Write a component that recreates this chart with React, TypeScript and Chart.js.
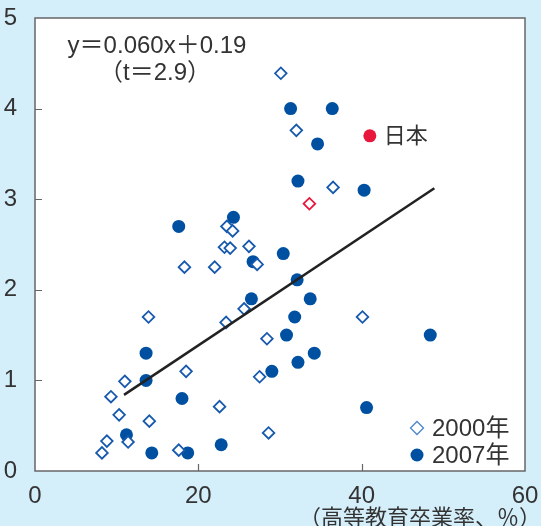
import React, { useEffect, useRef } from "react";
import { Chart, registerables } from "chart.js";

Chart.register(...registerables);

// ---- data ----
const xTickValues = [0, 20, 40, 60];
const yTickValues = [0, 1, 2, 3, 4, 5];

// 2000 (hollow diamonds)
const x2000 = [30.1, 32.0, 36.5, 23.5, 24.2, 23.2, 23.9, 26.2, 27.2, 18.3, 22.0, 25.6, 23.4, 13.9, 40.1, 28.4, 18.5, 27.5, 11.0, 9.3, 22.6, 10.3, 14.0, 28.6, 8.8, 11.4, 8.2, 17.6];
const y2000 = [4.39, 3.76, 3.13, 2.70, 2.65, 2.47, 2.46, 2.48, 2.28, 2.25, 2.25, 1.79, 1.64, 1.70, 1.70, 1.46, 1.10, 1.04, 0.99, 0.82, 0.71, 0.62, 0.55, 0.42, 0.33, 0.32, 0.20, 0.23];

// 2007 (filled circles)
const x2007 = [31.3, 36.4, 34.6, 32.2, 40.3, 17.6, 24.3, 30.4, 26.7, 32.1, 26.5, 33.7, 31.8, 30.8, 48.4, 13.6, 34.2, 13.6, 32.2, 29.0, 18.0, 40.6, 11.2, 22.8, 14.3, 18.7];
const y2007 = [4.00, 4.00, 3.61, 3.20, 3.10, 2.70, 2.80, 2.40, 2.31, 2.11, 1.90, 1.90, 1.70, 1.50, 1.50, 1.30, 1.30, 1.00, 1.20, 1.10, 0.80, 0.70, 0.40, 0.29, 0.20, 0.20];

// Japan
const japanX2000 = [33.6];
const japanY2000 = [2.95];
const japanX2007 = [41.0];
const japanY2007 = [3.70];

// regression line end points
const fitX = [10.9, 48.9];
const fitY = [0.84, 3.12];

const equationText = "y＝0.060x＋0.19";
const tText = "（t＝2.9）";
const japanLabel = "日本";
const legendLabels = ["2000年", "2007年"];
const xAxisTitle = "（高等教育卒業率、％）";

const BG = "#d4eefa";
const BLUE_FILL = "#0050a2";
const BLUE_LINE = "#1659ad";
const RED = "#e8173c";
const TEXT = "#333333";
const FONT = '"Liberation Sans", "Noto Sans CJK JP", sans-serif';

const pts = (xs: number[], ys: number[]) => xs.map((x, i) => ({ x, y: ys[i] }));

const decorPlugin = {
  id: "decor",
  beforeDraw(chart: any) {
    const { ctx, chartArea: a, width, height } = chart;
    ctx.save();
    ctx.fillStyle = BG;
    ctx.fillRect(0, 0, width, height);
    ctx.fillStyle = "#ffffff";
    ctx.fillRect(a.left, a.top, a.right - a.left, a.bottom - a.top);
    ctx.restore();
  },
  afterDraw(chart: any) {
    const { ctx, chartArea: a, scales } = chart;
    const xs = scales.x;
    const ys = scales.y;
    ctx.save();
    // border
    ctx.strokeStyle = "#666666";
    ctx.lineWidth = 1.5;
    ctx.strokeRect(a.left, a.top, a.right - a.left, a.bottom - a.top);
    // inward ticks
    ctx.lineWidth = 1.2;
    ctx.beginPath();
    yTickValues.forEach((v) => {
      if (v === 0 || v === 5) return;
      const py = Math.round(ys.getPixelForValue(v)) + 0.5;
      ctx.moveTo(a.left, py);
      ctx.lineTo(a.left + 7, py);
    });
    xTickValues.forEach((v) => {
      if (v === 0 || v === 60) return;
      const px = Math.round(xs.getPixelForValue(v)) + 0.5;
      ctx.moveTo(px, a.bottom);
      ctx.lineTo(px, a.bottom - 7);
    });
    ctx.stroke();

    // equation
    ctx.fillStyle = TEXT;
    ctx.textAlign = "center";
    ctx.textBaseline = "middle";
    ctx.font = `24px ${FONT}`;
    ctx.fillText(equationText, a.left + 122, a.top + 28);
    ctx.fillText(tText, a.left + 120, a.top + 55);

    // Japan label
    ctx.textAlign = "left";
    ctx.font = `22px ${FONT}`;
    ctx.fillText(japanLabel, xs.getPixelForValue(japanX2007[0]) + 14, ys.getPixelForValue(japanY2007[0]) + 1);

    // legend
    const lx = 417;
    const ly1 = 428;
    const ly2 = 455;
    ctx.strokeStyle = "#4a86d0";
    ctx.lineWidth = 1.3;
    ctx.beginPath();
    ctx.moveTo(lx - 6.5, ly1);
    ctx.lineTo(lx, ly1 - 6.5);
    ctx.lineTo(lx + 6.5, ly1);
    ctx.lineTo(lx, ly1 + 6.5);
    ctx.closePath();
    ctx.fillStyle = "#ffffff";
    ctx.fill();
    ctx.stroke();
    ctx.fillStyle = BLUE_FILL;
    ctx.beginPath();
    ctx.arc(lx, ly2, 6.5, 0, Math.PI * 2);
    ctx.fill();
    ctx.fillStyle = TEXT;
    ctx.font = `24px ${FONT}`;
    ctx.fillText(legendLabels[0], 432, ly1 + 1);
    ctx.fillText(legendLabels[1], 432, ly2 + 1);

    // x axis title
    ctx.textAlign = "right";
    ctx.font = `22px ${FONT}`;
    ctx.fillText(xAxisTitle, 541, 519);
    ctx.restore();
  },
};

export default function App() {
  const ref = useRef<HTMLCanvasElement | null>(null);
  useEffect(() => {
    if (!ref.current) return;
    const chart = new Chart(ref.current, {
      type: "scatter",
      data: {
        datasets: [
          {
            label: "fit",
            data: pts(fitX, fitY),
            showLine: true,
            borderColor: "#222222",
            borderWidth: 2.5,
            pointRadius: 0,
            fill: false,
          } as any,
          {
            label: "japan2007",
            data: pts(japanX2007, japanY2007),
            pointStyle: "circle",
            pointRadius: 6.5,
            backgroundColor: RED,
            borderWidth: 0,
          },
          {
            label: "japan2000",
            data: pts(japanX2000, japanY2000),
            pointStyle: "rectRot",
            pointRadius: 5.8,
            backgroundColor: "#ffffff",
            borderColor: RED,
            borderWidth: 1.8,
          },
          {
            label: legendLabels[0],
            data: pts(x2000, y2000),
            pointStyle: "rectRot",
            pointRadius: 5.8,
            backgroundColor: "#ffffff",
            borderColor: BLUE_LINE,
            borderWidth: 1.8,
          },
          {
            label: legendLabels[1],
            data: pts(x2007, y2007),
            pointStyle: "circle",
            pointRadius: 6.5,
            backgroundColor: BLUE_FILL,
            borderWidth: 0,
          },
        ],
      },
      options: {
        responsive: false,
        animation: false,
        events: [],
        layout: { padding: { top: 18, right: 16, left: 0, bottom: 0 } },
        plugins: {
          legend: { display: false },
          tooltip: { enabled: false },
        },
        scales: {
          x: {
            type: "linear",
            min: 0,
            max: 60,
            afterFit: (s: any) => {
              s.height = 55;
              s.paddingLeft = 0;
              s.paddingRight = 0;
            },
            afterBuildTicks: (s: any) => {
              s.ticks = xTickValues.map((v) => ({ value: v }));
            },
            grid: { display: false },
            border: { display: false },
            ticks: {
              padding: 3,
              color: TEXT,
              font: { family: FONT, size: 24 },
              maxRotation: 0,
              autoSkip: false,
            },
          },
          y: {
            type: "linear",
            min: 0,
            max: 5,
            afterFit: (s: any) => {
              s.width = 35;
              s.paddingTop = 0;
              s.paddingBottom = 0;
            },
            afterBuildTicks: (s: any) => {
              s.ticks = yTickValues.map((v) => ({ value: v }));
            },
            grid: { display: false },
            border: { display: false },
            ticks: {
              padding: 10,
              color: TEXT,
              font: { family: FONT, size: 24 },
              autoSkip: false,
            },
          },
        },
      },
      plugins: [decorPlugin],
    });
    return () => chart.destroy();
  }, []);

  return (
    <div style={{ position: "fixed", left: 0, top: 0, width: 541, height: 526, background: BG }}>
      <canvas ref={ref} width={541} height={526} style={{ display: "block" }} />
    </div>
  );
}
